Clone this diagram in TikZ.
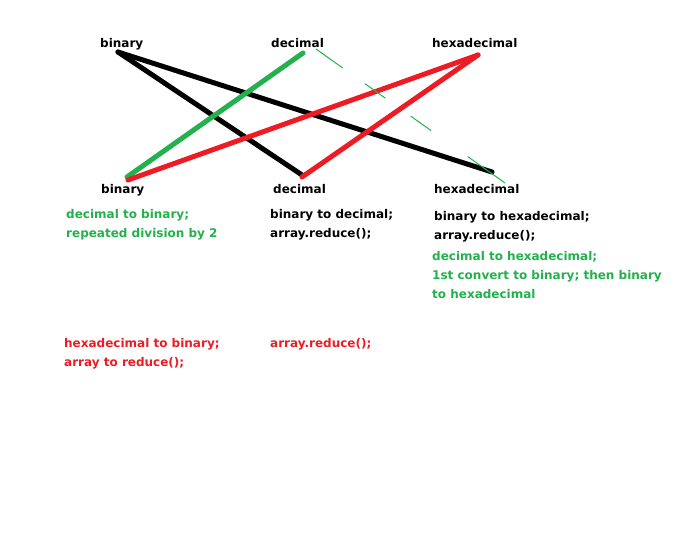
\documentclass[tikz,border=0pt]{standalone}
\usepackage{fontspec}
\setmainfont{DejaVu Sans}
\definecolor{pgreen}{RGB}{34,177,76}
\definecolor{pred}{RGB}{237,28,36}
\begin{document}
\begin{tikzpicture}[x=1pt,y=-1pt,
  lbl/.style={anchor=base west,inner sep=0pt,font=\bfseries\fontsize{12}{19}\selectfont,align=left},
  thick line/.style={line width=5pt,line cap=round},
  hint/.style={line width=1pt,dash pattern=on 33pt off 27pt on 25pt off 31pt on 25pt off 45pt on 46pt off 20pt}]
\useasboundingbox[fill=white] (0,0) rectangle (678,533);
% top labels
\node[lbl] (tb) at (100,47) {binary};
\node[lbl] (td) at (271,47) {decimal};
\node[lbl] (th) at (432,47) {hexadecimal};
% bottom labels
\node[lbl] (bb) at (101,193) {binary};
\node[lbl] (bd) at (273,193) {decimal};
\node[lbl] (bh) at (434,193) {hexadecimal};
% end points
\coordinate (tbE) at (118,52);
\coordinate (tdE) at (303,53);
\coordinate (thE) at (478,55);
\coordinate (bbG) at (127,177);
\coordinate (bbR) at (128,180);
\coordinate (bdK) at (302,175);
\coordinate (bdR) at (302,177);
\coordinate (bhK) at (492,172);
\coordinate (hintS) at (316,49);
\coordinate (hintE) at (505,183);
% connectors
\draw[thick line,black] (tbE) -- (bdK);
\draw[thick line,black] (tbE) -- (bhK);
\draw[thick line,pgreen] (tdE) -- (bbG);
\draw[thick line,pred] (thE) -- (bbR);
\draw[thick line,pred] (thE) -- (bdR);
\draw[hint,pgreen] (hintS) -- (hintE);
% notes (anchor = baseline of last line)
\node[lbl,text=pgreen] (n1) at (66,237) {decimal to binary;\\repeated division by 2};
\node[lbl] (n2) at (270,237) {binary to decimal;\\array.reduce();};
\node[lbl] (n3) at (434,239) {binary to hexadecimal;\\array.reduce();};
\node[lbl,text=pgreen] (n4) at (432,298) {decimal to hexadecimal;\\1st convert to binary; then binary\\to hexadecimal};
\node[lbl,text=pred] (n5) at (64,366) {hexadecimal to binary;\\array to reduce();};
\node[lbl,text=pred] (n6) at (270,347) {array.reduce();};
\end{tikzpicture}
\end{document}
